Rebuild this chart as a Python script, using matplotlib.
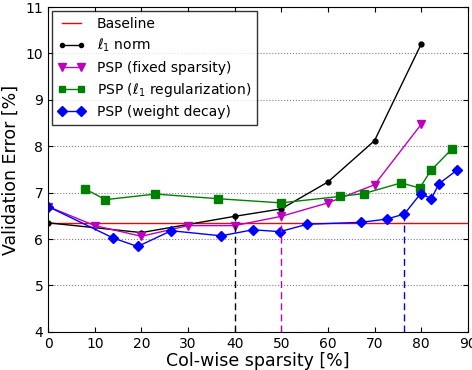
import matplotlib
matplotlib.use("Agg")
import matplotlib.pyplot as plt

# data
baseline = 6.35

l1_x = [0, 20, 40, 50, 60, 70, 80]
l1_y = [6.35, 6.14, 6.49, 6.65, 7.23, 8.12, 10.2]

fix_x = [0, 10, 20, 30, 40, 50, 60, 70, 80]
fix_y = [6.7, 6.29, 6.06, 6.29, 6.29, 6.49, 6.78, 7.17, 8.47]

reg_x = [7.9, 12.3, 23, 36.4, 49.9, 62.7, 67.7, 75.7, 79.7, 82.1, 86.6]
reg_y = [7.08, 6.85, 6.97, 6.87, 6.78, 6.92, 6.98, 7.21, 7.1, 7.48, 7.94]

wd_x = [0, 14, 19.2, 26.4, 37.1, 43.9, 49.7, 55.6, 67, 72.6, 76.4, 79.9, 82.2, 83.8, 87.6]
wd_y = [6.7, 6.02, 5.84, 6.18, 6.07, 6.2, 6.16, 6.32, 6.36, 6.43, 6.54, 6.98, 6.87, 7.19, 7.48]

# vertical markers: (x, top value, colour)
vlines = [(40, 6.49, 'k'), (50, 6.49, 'm'), (76.4, 6.54, 'b')]

fig = plt.figure(figsize=(4.72, 3.7), dpi=100)
ax = fig.add_axes([0.102, 0.103, 0.889, 0.878])

ax.axhline(baseline, color='r', lw=1, label='Baseline')
ax.plot(l1_x, l1_y, 'k-', marker='o', ms=3.5, lw=1, label=r'$\ell_1$ norm')
ax.plot(fix_x, fix_y, 'm-', marker='v', ms=6, lw=1, label='PSP (fixed sparsity)')
ax.plot(reg_x, reg_y, '-', color=(0, 0.5, 0), marker='s', ms=5.5, lw=1, label=r'PSP ($\ell_1$ regularization)')
ax.plot(wd_x, wd_y, 'b-', marker='D', ms=5.5, lw=1, label='PSP (weight decay)')

for x, top, c in vlines:
    ax.plot([x, x], [4, top], '--', color=c, lw=1, dashes=(5, 3))

ax.set_xlim(0, 90)
ax.set_ylim(4, 11)
ax.set_xticks(range(0, 91, 10))
ax.set_yticks(range(4, 12))
ax.yaxis.grid(True, linestyle=':', color='gray', lw=0.8)
ax.tick_params(direction='in', top=True, right=True, labelsize=10)
ax.set_xlabel('Col-wise sparsity [%]', fontsize=12.5, labelpad=1)
ax.set_ylabel('Validation Error [%]', fontsize=12.5, labelpad=4)

leg = ax.legend(loc='upper left', fontsize=10, numpoints=2, fancybox=False,
                handlelength=2, borderaxespad=0.3, labelspacing=0.45,
                markerscale=0.85)
leg.get_frame().set_edgecolor('k')

fig.savefig('out.png', dpi=100)
